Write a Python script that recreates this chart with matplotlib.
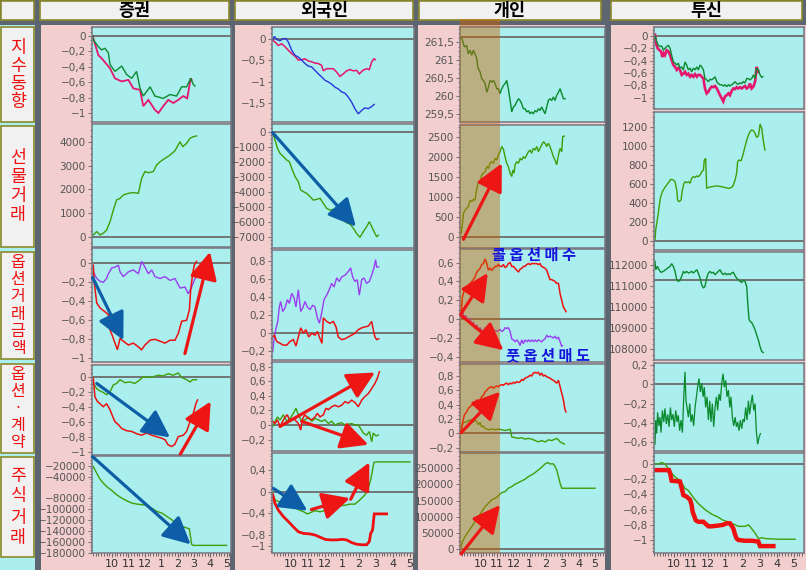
import matplotlib
matplotlib.use("Agg")
import matplotlib.pyplot as plt
from matplotlib.patches import Rectangle
from matplotlib.ticker import FuncFormatter, AutoMinorLocator, MultipleLocator

plt.rcParams['font.family'] = ['DejaVu Sans']
KR = ['Noto Sans CJK KR', 'DejaVu Sans']

# ---- labels ----
col_titles = ['증권', '외국인', '개인', '투신']
row_titles = ['지수동향', '선물거래', '옵션거래금액', '옵션·계약', '주식거래']
hour_ticks = [10, 11, 12, 13, 14, 15, 16, 17]
hour_labels = ['10', '11', '12', '1', '2', '3', '4', '5']
call_text = '콜 옵 션 매 수'
put_text = '풋 옵 션 매 도'

# ---- 증권 ----
sec_idx_green = [(8.82, 0.0), (8.86, -0.05), (9.17, -0.14), (9.37, -0.18), (9.57, -0.16), (9.78, -0.22),
                 (9.88, -0.37), (10.18, -0.46), (10.59, -0.39), (10.89, -0.5), (11.2, -0.55), (11.5, -0.46),
                 (11.71, -0.68), (11.91, -0.78), (12.32, -0.66), (12.62, -0.78), (13.13, -0.81), (13.54, -0.76),
                 (13.94, -0.78), (14.25, -0.66), (14.55, -0.66), (14.8, -0.55), (14.96, -0.63), (15.06, -0.65)]
sec_idx_pink = [(8.84, 0.0), (8.86, -0.03), (9.17, -0.25), (9.37, -0.29), (9.88, -0.42), (10.18, -0.55),
                (10.59, -0.59), (11.0, -0.57), (11.3, -0.68), (11.71, -0.70), (11.91, -0.91), (12.22, -0.83),
                (12.62, -0.96), (12.83, -1.0), (13.13, -0.91), (13.43, -0.83), (13.74, -0.87), (14.04, -0.83),
                (14.35, -0.78), (14.59, -0.81), (14.8, -0.55), (14.86, -0.57)]
sec_fut = [(8.86, 100), (9.07, 240), (9.27, 100), (9.47, 170), (9.67, 300), (9.88, 650), (10.08, 1140),
           (10.28, 1560), (10.49, 1630), (10.69, 1770), (11.0, 1840), (11.3, 1870), (11.61, 1840), (11.81, 2470),
           (12.01, 2750), (12.22, 2700), (12.52, 2750), (12.72, 3020), (12.93, 3160), (13.23, 3300),
           (13.54, 3440), (13.84, 3620), (14.15, 4000), (14.31, 3790), (14.55, 3930), (14.76, 4140),
           (14.96, 4210), (15.16, 4240)]
sec_amt_purple = [(8.86, -0.09), (9.07, -0.16), (9.27, -0.19), (9.47, -0.2), (9.67, -0.16), (9.78, -0.11),
                  (9.98, -0.05), (10.18, -0.04), (10.39, -0.02), (10.49, -0.09), (10.69, -0.14), (11.0, -0.09),
                  (11.3, -0.07), (11.61, -0.11), (11.81, 0.02), (12.01, -0.04), (12.22, -0.11), (12.42, -0.07),
                  (12.62, -0.14), (12.93, -0.16), (13.23, -0.14), (13.54, -0.18), (13.84, -0.16), (14.15, -0.26),
                  (14.45, -0.25), (14.65, -0.32), (14.86, -0.25), (15.06, -0.16), (15.16, -0.14)]
sec_amt_red = [(8.86, -0.02), (8.92, -0.21), (9.07, -0.42), (9.27, -0.47), (9.57, -0.51), (9.78, -0.54),
               (9.88, -0.70), (10.04, -0.77), (10.18, -0.84), (10.33, -0.91), (10.49, -0.79), (10.69, -0.82),
               (11.0, -0.86), (11.3, -0.84), (11.61, -0.88), (11.81, -0.91), (12.01, -0.86), (12.32, -0.81),
               (12.62, -0.80), (12.93, -0.82), (13.23, -0.84), (13.54, -0.81), (13.84, -0.81), (14.04, -0.74),
               (14.25, -0.61), (14.55, -0.60), (14.72, -0.49), (14.8, -0.28), (14.92, -0.11), (15.02, -0.02),
               (15.16, 0.02)]
sec_cnt_green = [(8.86, -0.09), (9.07, -0.16), (9.27, -0.19), (9.47, -0.21), (9.67, -0.24), (9.88, -0.2),
                 (10.08, -0.11), (10.28, -0.09), (10.49, -0.04), (10.79, -0.08), (11.1, -0.07), (11.4, -0.09),
                 (11.71, -0.04), (11.91, 0.0), (12.22, -0.01), (12.52, 0.0), (12.83, 0.02), (13.13, 0.01),
                 (13.43, 0.04), (13.74, 0.02), (14.04, 0.05), (14.25, -0.01), (14.55, -0.04), (14.76, -0.07),
                 (14.92, -0.04), (15.16, -0.04)]
sec_cnt_red = [(8.86, -0.02), (8.96, -0.27), (9.11, -0.33), (9.27, -0.36), (9.47, -0.4), (9.67, -0.36),
               (9.88, -0.44), (10.04, -0.53), (10.18, -0.6), (10.39, -0.64), (10.59, -0.69), (10.89, -0.72),
               (11.2, -0.73), (11.5, -0.76), (11.81, -0.78), (12.11, -0.75), (12.42, -0.78), (12.72, -0.8),
               (13.03, -0.82), (13.23, -0.84), (13.43, -0.91), (13.64, -0.93), (13.84, -0.90), (14.04, -0.80),
               (14.35, -0.78), (14.55, -0.73), (14.76, -0.60), (14.96, -0.49), (15.12, -0.36), (15.22, -0.31)]
sec_stk = [(8.86, -21800), (9.07, -34000), (9.27, -45000), (9.47, -52200), (9.67, -58300), (9.98, -65600),
           (10.28, -73500), (10.59, -79600), (10.89, -84500), (11.2, -88700), (11.5, -90600), (11.81, -91800),
           (12.11, -93000), (12.42, -97900), (12.72, -104000), (13.03, -107000), (13.33, -113100),
           (13.64, -119200), (13.94, -128300), (14.25, -131300), (14.55, -134400), (14.72, -136200),
           (14.86, -164800), (14.96, -166600), (16.99, -166600)]

# ---- 외국인 ----
frn_idx_pink = [(8.92, -0.04), (9.06, -0.08), (9.25, -0.16), (9.45, -0.12), (9.65, -0.19), (9.84, -0.27),
                (10.04, -0.35), (10.24, -0.41), (10.43, -0.5), (10.63, -0.49), (10.82, -0.47), (11.02, -0.52),
                (11.22, -0.54), (11.41, -0.57), (11.61, -0.58), (11.8, -0.62), (11.9, -0.75), (12.1, -0.7),
                (12.29, -0.7), (12.49, -0.7), (12.69, -0.78), (12.88, -0.88), (13.08, -0.82), (13.27, -0.75),
                (13.47, -0.72), (13.67, -0.75), (13.86, -0.74), (14.02, -0.82), (14.22, -0.74), (14.45, -0.7),
                (14.61, -0.72), (14.75, -0.54), (14.88, -0.47), (14.96, -0.49)]
frn_idx_blue = [(8.92, -0.02), (9.02, 0.05), (9.16, -0.02), (9.35, -0.05), (9.55, 0.0), (9.71, 0.0),
                (9.84, -0.08), (10.04, -0.27), (10.24, -0.39), (10.43, -0.43), (10.63, -0.5), (10.82, -0.58),
                (11.02, -0.64), (11.22, -0.66), (11.41, -0.74), (11.61, -0.82), (11.8, -0.89), (12.0, -0.97),
                (12.2, -1.01), (12.39, -1.06), (12.59, -1.13), (12.78, -1.17), (12.98, -1.24), (13.18, -1.27),
                (13.37, -1.36), (13.57, -1.48), (13.76, -1.63), (13.96, -1.75), (14.16, -1.67), (14.35, -1.61),
                (14.55, -1.63), (14.75, -1.58), (14.9, -1.53)]
frn_fut = [(8.92, -110), (9.06, -560), (9.2, -1110), (9.35, -1440), (9.55, -1670), (9.75, -1890), (9.9, -2000),
           (10.04, -2440), (10.24, -3000), (10.43, -3330), (10.57, -3890), (10.73, -4000), (10.92, -4110),
           (11.12, -4330), (11.31, -4560), (11.51, -4510), (11.71, -4440), (11.9, -4780), (12.1, -5110),
           (12.29, -5220), (12.49, -5180), (12.69, -5270), (12.88, -5780), (13.08, -5890), (13.27, -6070),
           (13.47, -6160), (13.67, -6440), (13.86, -6780), (14.06, -7040), (14.25, -6670), (14.45, -6330),
           (14.61, -6000), (14.75, -6330), (14.94, -6780), (15.04, -7000), (15.14, -6890)]
frn_amt_purple = [(8.92, -0.2), (9.02, -0.04), (9.12, 0.06), (9.22, 0.13), (9.31, 0.29), (9.39, 0.35),
                  (9.51, 0.24), (9.65, 0.28), (9.78, 0.37), (9.9, 0.33), (10.04, 0.44), (10.18, 0.39),
                  (10.29, 0.29), (10.43, 0.48), (10.57, 0.24), (10.69, 0.28), (10.82, 0.35), (10.96, 0.29),
                  (11.12, 0.26), (11.27, 0.31), (11.41, 0.29), (11.55, 0.17), (11.67, 0.11), (11.8, 0.22),
                  (11.94, 0.37), (12.1, 0.42), (12.25, 0.48), (12.39, 0.55), (12.53, 0.51), (12.69, 0.61),
                  (12.84, 0.57), (12.98, 0.62), (13.18, 0.64), (13.37, 0.68), (13.51, 0.72), (13.63, 0.62),
                  (13.76, 0.57), (13.9, 0.59), (14.02, 0.42), (14.16, 0.59), (14.29, 0.61), (14.45, 0.55),
                  (14.61, 0.57), (14.75, 0.64), (14.88, 0.72), (14.98, 0.81), (15.04, 0.73), (15.16, 0.73)]
frn_amt_red = [(8.92, -0.04), (9.02, -0.02), (9.16, -0.09), (9.35, -0.11), (9.55, -0.13), (9.75, -0.13),
               (9.94, -0.09), (10.14, -0.07), (10.29, -0.14), (10.43, -0.04), (10.57, 0.06), (10.73, 0.0),
               (10.88, 0.04), (11.04, -0.04), (11.22, 0.0), (11.41, -0.02), (11.55, 0.02), (11.71, -0.06),
               (11.82, -0.11), (11.9, 0.17), (12.1, 0.13), (12.29, 0.11), (12.49, 0.13), (12.65, 0.07),
               (12.78, -0.04), (12.98, -0.07), (13.18, -0.06), (13.37, -0.04), (13.57, -0.02), (13.76, 0.0),
               (13.96, 0.04), (14.16, 0.06), (14.35, 0.07), (14.55, 0.08), (14.75, 0.13), (14.84, 0.04),
               (14.94, -0.04), (15.04, -0.07), (15.16, -0.06)]
frn_cnt_red = [(8.92, 0.05), (9.06, 0.02), (9.2, 0.07), (9.35, -0.02), (9.51, 0.05), (9.65, 0.11), (9.78, 0.14),
               (9.94, 0.05), (10.1, 0.09), (10.24, 0.07), (10.43, 0.02), (10.57, -0.07), (10.69, 0.09),
               (10.82, 0.14), (11.02, 0.09), (11.22, 0.07), (11.41, 0.11), (11.55, 0.16), (11.71, 0.11),
               (11.9, 0.14), (12.06, 0.23), (12.2, 0.21), (12.39, 0.25), (12.59, 0.27), (12.78, 0.25),
               (12.98, 0.27), (13.18, 0.32), (13.37, 0.30), (13.57, 0.34), (13.76, 0.31), (13.96, 0.25),
               (14.16, 0.34), (14.35, 0.39), (14.55, 0.43), (14.75, 0.5), (14.94, 0.57), (15.08, 0.64),
               (15.2, 0.73)]
frn_cnt_green = [(8.92, -0.02), (9.06, 0.05), (9.2, 0.11), (9.35, 0.07), (9.55, 0.14), (9.75, 0.05),
                 (9.94, 0.09), (10.14, 0.16), (10.29, 0.23), (10.43, 0.14), (10.63, 0.05), (10.82, 0.07),
                 (11.02, 0.11), (11.22, 0.05), (11.41, 0.09), (11.61, 0.07), (11.8, 0.05), (12.0, 0.07),
                 (12.2, 0.02), (12.39, 0.05), (12.59, 0.0), (12.78, 0.02), (12.98, 0.03), (13.18, 0.0),
                 (13.37, 0.01), (13.57, 0.02), (13.76, 0.0), (13.96, 0.0), (14.1, -0.05), (14.25, -0.11),
                 (14.45, -0.14), (14.61, -0.09), (14.75, -0.23), (14.84, -0.11), (15.0, -0.15), (15.14, -0.14)]
frn_stk_green = [(8.92, -0.03), (9.06, -0.15), (9.25, -0.18), (9.55, -0.22), (9.84, -0.25), (10.14, -0.28),
                 (10.43, -0.33), (10.73, -0.37), (10.96, -0.41), (11.12, -0.39), (11.41, -0.35), (11.71, -0.37),
                 (12.0, -0.35), (12.29, -0.31), (12.59, -0.28), (12.88, -0.26), (13.18, -0.25), (13.47, -0.23),
                 (13.76, -0.23), (13.96, -0.18), (14.16, -0.12), (14.35, -0.06), (14.55, 0.06), (14.69, 0.22),
                 (14.8, 0.4), (14.88, 0.54), (15.04, 0.55), (17.0, 0.55)]
frn_stk_red = [(8.92, -0.06), (9.06, -0.22), (9.25, -0.34), (9.55, -0.46), (9.84, -0.55), (10.14, -0.65),
               (10.43, -0.74), (10.73, -0.77), (11.12, -0.78), (11.41, -0.8), (11.71, -0.84), (12.0, -0.88),
               (12.29, -0.89), (12.69, -0.89), (12.98, -0.88), (13.27, -0.89), (13.57, -0.94), (13.86, -0.97),
               (14.16, -0.98), (14.45, -0.98), (14.61, -0.92), (14.69, -0.77), (14.8, -0.71), (14.9, -0.41),
               (15.14, -0.41), (15.63, -0.41)]

# ---- 개인 ----
ind_idx = [(8.8, 261.64), (8.88, 261.55), (9.0, 261.36), (9.14, 261.41), (9.24, 261.17), (9.35, 261.27),
           (9.45, 261.13), (9.55, 261.27), (9.65, 261.17), (9.76, 261.03), (9.82, 260.8), (9.96, 260.66),
           (10.06, 260.48), (10.16, 260.43), (10.27, 260.34), (10.37, 260.1), (10.47, 260.24), (10.57, 260.43),
           (10.67, 260.38), (10.78, 260.43), (10.88, 260.34), (10.98, 260.2), (11.08, 260.2), (11.18, 260.06),
           (11.29, 260.2), (11.39, 260.29), (11.49, 260.34), (11.59, 260.43), (11.69, 260.2), (11.8, 259.87),
           (11.9, 259.55), (12.0, 259.69), (12.1, 259.73), (12.2, 259.83), (12.31, 259.92), (12.41, 259.87),
           (12.51, 259.78), (12.61, 259.64), (12.71, 259.64), (12.82, 259.55), (12.92, 259.59), (13.02, 259.5),
           (13.12, 259.55), (13.22, 259.5), (13.33, 259.59), (13.43, 259.55), (13.53, 259.64), (13.63, 259.59),
           (13.73, 259.69), (13.84, 259.59), (13.94, 259.5), (14.04, 259.69), (14.14, 259.87), (14.24, 259.92),
           (14.35, 259.87), (14.45, 259.97), (14.55, 259.87), (14.65, 260.01), (14.76, 260.1), (14.86, 260.2),
           (14.96, 260.06), (15.06, 259.92), (15.16, 259.92)]
ind_fut = [(8.8, 100), (8.88, 350), (8.94, 600), (9.04, 680), (9.14, 725), (9.24, 770), (9.35, 930), (9.45, 890),
           (9.55, 950), (9.65, 930), (9.76, 1225), (9.86, 1390), (9.96, 1350), (10.06, 1560), (10.16, 1600),
           (10.27, 1640), (10.37, 1770), (10.47, 1725), (10.57, 1850), (10.67, 1890), (10.78, 1850),
           (10.88, 1975), (10.98, 1930), (11.08, 2060), (11.18, 2140), (11.29, 2270), (11.39, 2200),
           (11.49, 2015), (11.59, 1850), (11.69, 1770), (11.8, 1600), (11.9, 1520), (11.96, 1680), (12.04, 1600),
           (12.1, 1810), (12.2, 1890), (12.31, 1850), (12.41, 1975), (12.51, 1930), (12.61, 2015), (12.71, 1975),
           (12.82, 2060), (12.92, 2140), (13.02, 2180), (13.12, 2100), (13.22, 2225), (13.33, 2180),
           (13.43, 2270), (13.53, 2140), (13.63, 2225), (13.73, 2310), (13.84, 2390), (13.94, 2350),
           (14.04, 2270), (14.14, 2350), (14.24, 2270), (14.35, 2140), (14.45, 2015), (14.55, 1930),
           (14.65, 1810), (14.76, 2060), (14.86, 2225), (14.96, 2140), (15.02, 2520), (15.12, 2530)]
ind_amt_red = [(8.8, 0.06), (8.88, 0.24), (9.0, 0.31), (9.14, 0.34), (9.24, 0.36), (9.35, 0.38), (9.45, 0.4),
               (9.55, 0.42), (9.65, 0.45), (9.76, 0.5), (9.86, 0.52), (9.96, 0.54), (10.06, 0.58), (10.16, 0.59),
               (10.27, 0.64), (10.37, 0.59), (10.47, 0.52), (10.57, 0.54), (10.67, 0.52), (10.78, 0.54),
               (10.88, 0.56), (10.98, 0.56), (11.08, 0.58), (11.18, 0.56), (11.29, 0.56), (11.39, 0.58),
               (11.49, 0.55), (11.59, 0.56), (11.69, 0.59), (11.8, 0.6), (11.9, 0.56), (12.0, 0.56), (12.1, 0.54),
               (12.2, 0.52), (12.31, 0.5), (12.41, 0.53), (12.51, 0.54), (12.61, 0.56), (12.71, 0.56),
               (12.82, 0.58), (12.92, 0.59), (13.02, 0.58), (13.12, 0.59), (13.22, 0.59), (13.33, 0.59),
               (13.43, 0.59), (13.53, 0.58), (13.63, 0.59), (13.73, 0.56), (13.84, 0.55), (13.94, 0.54),
               (14.04, 0.52), (14.14, 0.47), (14.24, 0.42), (14.35, 0.42), (14.45, 0.41), (14.55, 0.4),
               (14.65, 0.38), (14.76, 0.38), (14.86, 0.27), (14.96, 0.2), (15.06, 0.13), (15.16, 0.1),
               (15.22, 0.08)]
ind_amt_purple = [(8.8, 0.04), (8.88, 0.08), (9.0, 0.02), (9.08, 0.04), (9.2, -0.01), (9.35, 0.01),
                  (9.45, -0.06), (9.55, -0.03), (9.65, -0.1), (9.76, -0.06), (9.86, -0.12), (9.96, -0.09),
                  (10.06, -0.12), (10.16, -0.13), (10.27, -0.09), (10.37, -0.15), (10.47, -0.11), (10.57, -0.13),
                  (10.67, -0.09), (10.78, -0.13), (10.88, -0.12), (10.98, -0.13), (11.08, -0.12), (11.18, -0.11),
                  (11.29, -0.13), (11.39, -0.12), (11.49, -0.09), (11.59, -0.1), (11.69, -0.09), (11.8, -0.13),
                  (11.9, -0.21), (12.0, -0.22), (12.1, -0.24), (12.2, -0.22), (12.31, -0.24), (12.41, -0.28),
                  (12.51, -0.22), (12.61, -0.26), (12.71, -0.22), (12.82, -0.24), (12.92, -0.22), (13.02, -0.24),
                  (13.12, -0.22), (13.22, -0.24), (13.33, -0.22), (13.43, -0.24), (13.53, -0.22), (13.63, -0.23),
                  (13.73, -0.24), (13.84, -0.22), (13.94, -0.21), (14.04, -0.17), (14.14, -0.19), (14.24, -0.18),
                  (14.35, -0.19), (14.45, -0.2), (14.55, -0.18), (14.65, -0.21), (14.76, -0.19), (14.86, -0.24),
                  (14.96, -0.29), (15.0, -0.28)]
ind_cnt_red = [(8.8, 0.02), (8.88, 0.14), (9.0, 0.26), (9.14, 0.3), (9.24, 0.35), (9.35, 0.37), (9.45, 0.4),
               (9.55, 0.39), (9.65, 0.42), (9.76, 0.47), (9.86, 0.44), (9.96, 0.47), (10.06, 0.51), (10.16, 0.53),
               (10.27, 0.58), (10.37, 0.6), (10.47, 0.63), (10.57, 0.64), (10.67, 0.65), (10.78, 0.63),
               (10.88, 0.65), (10.98, 0.66), (11.08, 0.65), (11.18, 0.67), (11.29, 0.68), (11.39, 0.67),
               (11.49, 0.69), (11.59, 0.7), (11.69, 0.68), (11.8, 0.7), (11.9, 0.69), (12.0, 0.71), (12.1, 0.7),
               (12.2, 0.72), (12.31, 0.71), (12.41, 0.72), (12.51, 0.75), (12.61, 0.74), (12.71, 0.77),
               (12.82, 0.78), (12.92, 0.79), (13.02, 0.81), (13.12, 0.8), (13.22, 0.84), (13.33, 0.85),
               (13.43, 0.84), (13.53, 0.85), (13.63, 0.81), (13.73, 0.84), (13.84, 0.8), (13.94, 0.81),
               (14.04, 0.79), (14.14, 0.78), (14.24, 0.77), (14.35, 0.75), (14.45, 0.74), (14.55, 0.72),
               (14.65, 0.7), (14.76, 0.74), (14.86, 0.65), (14.96, 0.56), (15.06, 0.47), (15.16, 0.33),
               (15.22, 0.3)]
ind_cnt_green = [(8.8, 0.07), (8.94, 0.15), (9.14, 0.16), (9.35, 0.19), (9.55, 0.16), (9.65, 0.19), (9.76, 0.16),
                 (9.86, 0.12), (9.96, 0.15), (10.06, 0.09), (10.16, 0.1), (10.27, 0.07), (10.47, 0.05),
                 (10.67, 0.06), (10.88, 0.05), (11.08, 0.06), (11.29, 0.05), (11.49, 0.04), (11.69, 0.05),
                 (11.8, 0.06), (11.9, -0.05), (12.1, -0.06), (12.31, -0.07), (12.51, -0.06), (12.71, -0.08),
                 (12.92, -0.07), (13.12, -0.08), (13.33, -0.1), (13.53, -0.12), (13.73, -0.1), (13.94, -0.12),
                 (14.14, -0.09), (14.35, -0.1), (14.55, -0.08), (14.65, -0.07), (14.76, -0.09), (14.86, -0.12),
                 (14.96, -0.13), (15.12, -0.15)]
ind_stk = [(8.8, 8200), (8.88, 23700), (9.04, 39100), (9.24, 54500), (9.45, 70000), (9.65, 85400),
           (9.86, 100800), (10.06, 116300), (10.27, 131700), (10.47, 142000), (10.67, 152300), (10.88, 157400),
           (11.08, 164600), (11.18, 170800), (11.29, 174900), (11.49, 178000), (11.69, 188300), (11.9, 193500),
           (12.1, 200700), (12.31, 205800), (12.51, 211000), (12.71, 216100), (12.92, 224300), (13.12, 229500),
           (13.33, 236700), (13.53, 244900), (13.73, 253100), (13.94, 263400), (14.1, 267500), (14.24, 263400),
           (14.45, 263400), (14.55, 255200), (14.65, 244900), (14.76, 224300), (14.86, 203700), (14.96, 188300),
           (15.37, 188300), (16.18, 188300), (17.0, 188300)]
ind_shade_end = 11.18

# ---- 투신 ----
trs_idx_green = [(8.89, 0.0), (8.99, -0.09), (9.08, -0.15), (9.18, -0.17), (9.28, -0.16), (9.38, -0.23),
                 (9.47, -0.2), (9.57, -0.17), (9.67, -0.15), (9.77, -0.2), (9.86, -0.31), (9.96, -0.42),
                 (10.06, -0.44), (10.16, -0.47), (10.25, -0.44), (10.35, -0.52), (10.45, -0.5), (10.55, -0.55),
                 (10.64, -0.42), (10.74, -0.47), (10.84, -0.55), (10.94, -0.52), (11.03, -0.58), (11.13, -0.52),
                 (11.23, -0.55), (11.33, -0.5), (11.42, -0.55), (11.52, -0.47), (11.62, -0.5), (11.72, -0.55),
                 (11.81, -0.69), (11.91, -0.71), (12.01, -0.74), (12.11, -0.7), (12.2, -0.71), (12.3, -0.69),
                 (12.4, -0.66), (12.5, -0.74), (12.59, -0.77), (12.69, -0.79), (12.79, -0.79), (12.88, -0.81),
                 (12.98, -0.79), (13.08, -0.82), (13.18, -0.79), (13.27, -0.81), (13.37, -0.79), (13.47, -0.77),
                 (13.57, -0.74), (13.66, -0.77), (13.76, -0.78), (13.86, -0.76), (13.96, -0.77), (14.05, -0.74),
                 (14.15, -0.76), (14.25, -0.69), (14.35, -0.69), (14.44, -0.71), (14.54, -0.69), (14.64, -0.63),
                 (14.74, -0.69), (14.83, -0.52), (14.93, -0.55), (15.03, -0.63), (15.13, -0.67), (15.19, -0.66)]
trs_idx_pink = [(8.89, 0.02), (8.95, -0.12), (9.04, -0.2), (9.14, -0.23), (9.24, -0.25), (9.32, -0.34),
                (9.4, -0.28), (9.47, -0.31), (9.57, -0.23), (9.67, -0.25), (9.77, -0.31), (9.86, -0.39),
                (9.96, -0.47), (10.06, -0.5), (10.16, -0.55), (10.25, -0.52), (10.35, -0.55), (10.45, -0.63),
                (10.55, -0.61), (10.64, -0.58), (10.74, -0.63), (10.84, -0.61), (10.94, -0.66), (11.03, -0.63),
                (11.13, -0.66), (11.23, -0.62), (11.33, -0.66), (11.42, -0.63), (11.52, -0.63), (11.62, -0.66),
                (11.72, -0.69), (11.81, -0.85), (11.91, -0.93), (12.01, -0.9), (12.11, -0.85), (12.2, -0.82),
                (12.3, -0.83), (12.4, -0.81), (12.5, -0.85), (12.59, -0.9), (12.69, -0.96), (12.79, -1.01),
                (12.88, -1.06), (12.98, -0.98), (13.08, -0.96), (13.18, -0.93), (13.27, -0.96), (13.37, -0.89),
                (13.47, -0.85), (13.57, -0.86), (13.66, -0.83), (13.76, -0.85), (13.86, -0.83), (13.96, -0.85),
                (14.05, -0.83), (14.15, -0.81), (14.25, -0.85), (14.35, -0.83), (14.44, -0.77), (14.54, -0.85),
                (14.64, -0.82), (14.74, -0.74), (14.83, -0.5), (14.93, -0.58)]
trs_fut = [(8.89, 14), (8.93, 112), (8.99, 182), (9.08, 288), (9.14, 375), (9.22, 463), (9.32, 516), (9.43, 551),
           (9.57, 586), (9.71, 621), (9.82, 646), (9.96, 639), (10.06, 621), (10.16, 533), (10.21, 428),
           (10.29, 410), (10.41, 428), (10.49, 533), (10.57, 597), (10.64, 621), (10.74, 611), (10.84, 621),
           (10.94, 604), (11.03, 656), (11.13, 674), (11.23, 667), (11.33, 681), (11.42, 674), (11.52, 691),
           (11.62, 726), (11.72, 744), (11.77, 849), (11.85, 867), (11.91, 551), (12.01, 561), (12.2, 568),
           (12.4, 575), (12.59, 575), (12.79, 568), (12.98, 561), (13.18, 551), (13.37, 561), (13.47, 586),
           (13.57, 639), (13.66, 709), (13.72, 832), (13.8, 849), (13.92, 842), (14.0, 884), (14.05, 919),
           (14.15, 989), (14.25, 1060), (14.35, 1112), (14.44, 1147), (14.54, 1165), (14.64, 1158),
           (14.74, 1130), (14.83, 1088), (14.93, 1102), (14.99, 1165), (15.03, 1228), (15.13, 1183),
           (15.19, 1095), (15.26, 1007), (15.32, 954)]
trs_amt = [(8.89, 112158), (8.93, 111763), (9.03, 111921), (9.12, 111763), (9.24, 111636), (9.38, 111684),
           (9.51, 111763), (9.63, 111842), (9.77, 111921), (9.86, 112047), (9.96, 111921), (10.06, 111684),
           (10.16, 111289), (10.25, 111210), (10.35, 111257), (10.45, 111447), (10.55, 111684), (10.64, 111605),
           (10.74, 111684), (10.84, 111605), (10.94, 111636), (11.03, 111684), (11.13, 111605), (11.23, 111684),
           (11.33, 111763), (11.42, 111605), (11.52, 111368), (11.62, 111051), (11.72, 110893), (11.81, 110972),
           (11.91, 111368), (12.01, 111605), (12.11, 111684), (12.2, 111605), (12.3, 111636), (12.4, 111526),
           (12.5, 111605), (12.59, 111684), (12.69, 111763), (12.79, 111605), (12.88, 111526), (12.98, 111605),
           (13.08, 111526), (13.18, 111573), (13.27, 111526), (13.37, 111605), (13.47, 111636), (13.57, 111478),
           (13.66, 111368), (13.76, 111289), (13.86, 111210), (13.96, 111162), (14.05, 111257), (14.15, 111210),
           (14.25, 110972), (14.31, 110182), (14.39, 109391), (14.46, 109312), (14.54, 109265), (14.64, 109107),
           (14.74, 108917), (14.83, 108680), (14.93, 108443), (15.03, 108127), (15.13, 107889), (15.22, 107842)]
trs_cnt = [(8.89, -0.62), (8.93, -0.37), (8.99, -0.51), (9.04, -0.29), (9.12, -0.43), (9.18, -0.34), (9.24, -0.5),
           (9.32, -0.27), (9.40, -0.39), (9.47, -0.25), (9.55, -0.41), (9.63, -0.31), (9.71, -0.44), (9.79, -0.24),
           (9.86, -0.37), (9.94, -0.31), (10.02, -0.44), (10.10, -0.27), (10.18, -0.39), (10.25, -0.32),
           (10.33, -0.48), (10.41, -0.37), (10.49, -0.5), (10.57, -0.13), (10.64, 0.13), (10.70, -0.17),
           (10.76, -0.24), (10.84, -0.34), (10.92, -0.2), (10.99, -0.39), (11.07, -0.31), (11.15, -0.43),
           (11.23, -0.24), (11.31, -0.13), (11.38, -0.03), (11.46, 0.06), (11.54, -0.08), (11.62, 0.01),
           (11.70, -0.13), (11.77, -0.03), (11.85, -0.24), (11.93, -0.13), (12.01, -0.37), (12.09, -0.17),
           (12.16, -0.39), (12.24, -0.2), (12.32, -0.44), (12.40, -0.24), (12.48, -0.13), (12.55, -0.27),
           (12.63, -0.1), (12.71, -0.17), (12.79, 0.01), (12.87, 0.11), (12.94, -0.03), (13.02, 0.04),
           (13.10, -0.13), (13.18, -0.06), (13.26, -0.24), (13.33, -0.13), (13.41, -0.34), (13.49, -0.43),
           (13.57, -0.34), (13.65, -0.44), (13.72, -0.39), (13.80, -0.48), (13.88, -0.37), (13.96, -0.46),
           (14.04, -0.36), (14.11, -0.39), (14.19, -0.24), (14.27, -0.37), (14.35, -0.17), (14.42, -0.31),
           (14.50, -0.2), (14.58, -0.11), (14.66, -0.27), (14.74, -0.2), (14.81, -0.48), (14.89, -0.62),
           (14.97, -0.55), (15.05, -0.51)]
trs_stk_green = [(8.89, 0.0), (9.08, 0.0), (9.28, 0.02), (9.47, 0.0), (9.67, -0.06), (9.86, -0.12), (10.06, -0.17),
                 (10.25, -0.2), (10.45, -0.25), (10.64, -0.32), (10.84, -0.35), (11.03, -0.41), (11.23, -0.47),
                 (11.42, -0.52), (11.62, -0.56), (11.81, -0.6), (12.01, -0.63), (12.2, -0.66), (12.4, -0.68),
                 (12.59, -0.7), (12.79, -0.73), (12.98, -0.75), (13.18, -0.76), (13.37, -0.78), (13.57, -0.8),
                 (13.76, -0.82), (13.96, -0.82), (14.15, -0.82), (14.35, -0.8), (14.54, -0.85), (14.74, -0.91),
                 (14.93, -0.98), (15.13, -0.97), (15.32, -0.98), (16.1, -0.99), (17.08, -0.99)]
trs_stk_red = [(8.89, -0.08), (9.57, -0.08), (9.71, -0.08), (9.77, -0.12), (9.86, -0.22), (10.35, -0.23),
               (10.45, -0.32), (10.55, -0.41), (10.74, -0.43), (10.94, -0.47), (11.03, -0.54), (11.09, -0.63),
               (11.19, -0.69), (11.27, -0.74), (11.42, -0.76), (11.72, -0.76), (11.81, -0.78), (12.01, -0.82),
               (12.2, -0.82), (12.59, -0.81), (12.88, -0.8), (13.08, -0.78), (13.27, -0.78), (13.47, -0.85),
               (13.57, -0.93), (13.66, -0.98), (13.76, -1.0), (14.15, -1.01), (14.54, -1.01), (14.93, -1.02),
               (15.03, -1.08), (15.32, -1.08), (15.81, -1.08)]

# arrows: (col, row, x_from, y_from, x_to, y_to, kind)
arrows = [
    (0, 2, 8.82, -0.15, 10.69, -0.81, 'b'), (0, 2, 14.45, -0.95, 15.98, 0.12, 'r'),
    (0, 3, 9.07, -0.09, 13.54, -0.81, 'b'), (0, 3, 14.15, -1.04, 16.02, -0.33, 'r'),
    (0, 4, 8.82, -3600, 14.8, -164800, 'b'),
    (1, 1, 8.92, -70, 13.82, -6330, 'b'),
    (1, 3, 9.35, -0.02, 14.94, 0.72, 'r'), (1, 3, 10.63, 0.05, 14.55, -0.27, 'r'),
    (1, 4, 8.96, 0.06, 10.96, -0.35, 'b'), (1, 4, 11.2, -0.33, 13.47, -0.12, 'r'),
    (1, 4, 13.51, -0.14, 14.61, 0.54, 'r'),
    (2, 1, 8.94, -50, 11.29, 1850, 'r'),
    (2, 2, 8.8, 0.06, 10.43, 0.49, 'r'), (2, 2, 8.8, 0.04, 11.39, -0.33, 'r'),
    (2, 3, 8.8, 0.01, 11.18, 0.58, 'r'),
    (2, 4, 8.8, -14400, 11.18, 136800, 'r'),
]

# ---- styling ----
W, H = 806, 570
PINK = '#f2cece'
CYAN = '#aaeeee'
DARK = '#5d6570'
BOX = '#f1f1f1'
OLIVE = '#8c8a2a'
SHADE = '#cd6400'
GRN = '#0a8a2c'
LGRN = '#3e9f08'
MAG = '#e5166b'
BLUE = '#2a35d8'
PURP = '#9a3ef0'
RED = '#ee1010'
ARROW_C = {'r': '#ee1515', 'b': '#0d5ea6'}

col_x = [(92, 231), (272, 414), (460, 605), (654, 804)]
row_y = [[(27, 122), (124, 247), (248, 362), (365, 455), (456, 553)],
         [(27, 122), (124, 248), (250, 360), (362, 451), (453, 553)],
         [(27, 122), (125, 248), (249, 362), (364, 452), (453, 553)],
         [(27, 109), (112, 250), (252, 360), (363, 451), (453, 553)]]
xlims = [(8.78, 17.26), (8.88, 17.24), (8.73, 17.61), (8.83, 17.6)]
ylims = [[(-1.117, 0.117), (-406, 4740), (-1.039, 0.161), (-1.044, 0.156), (-180600, -2300)],
         [(-1.94, 0.27), (-7750, 510), (-0.294, 0.917), (-0.357, 0.864), (-1.132, 0.714)],
         [(259.27, 261.92), (-268, 2808), (-0.455, 0.745), (-0.26, 0.967), (-11400, 297000)],
         [(-1.183, 0.146), (-98, 1355), (107490, 112600), (-0.69, 0.22), (-1.171, 0.145)]]
unit = [0, -0.2, -0.4, -0.6, -0.8, -1]
yticks = [[unit, [0, 1000, 2000, 3000, 4000], unit, unit,
           [-20000, -40000, -80000, -100000, -120000, -140000, -160000, -180000]],
          [[0, -0.5, -1, -1.5], [0, -1000, -2000, -3000, -4000, -5000, -6000, -7000],
           [-0.2, 0, 0.2, 0.4, 0.6, 0.8], [-0.2, 0, 0.2, 0.4, 0.6, 0.8], [0.4, 0, -0.4, -0.8, -1]],
          [[259.5, 260, 260.5, 261, 261.5], [0, 500, 1000, 1500, 2000, 2500], [-0.4, -0.2, 0, 0.2, 0.4, 0.6],
           [-0.2, 0, 0.2, 0.4, 0.6, 0.8], [0, 50000, 100000, 150000, 200000, 250000]],
          [unit, [0, 200, 400, 600, 800, 1000, 1200], [108000, 109000, 110000, 111000, 112000],
           [0.2, 0, -0.2, -0.4, -0.6], unit]]
refs = [[0, 0, 0, 0, None], [0, 0, 0, 0, 0], [261.64, 0, 0, 0, 0], [0, 0, 111288, 0, 0]]

series = {
    (0, 0): [(sec_idx_pink, MAG, 1.3), (sec_idx_green, GRN, 1.0)],
    (0, 1): [(sec_fut, LGRN, 1.0)],
    (0, 2): [(sec_amt_purple, PURP, 1.0), (sec_amt_red, RED, 1.1)],
    (0, 3): [(sec_cnt_green, LGRN, 1.0), (sec_cnt_red, RED, 1.1)],
    (0, 4): [(sec_stk, LGRN, 1.0)],
    (1, 0): [(frn_idx_pink, MAG, 1.1), (frn_idx_blue, BLUE, 1.0)],
    (1, 1): [(frn_fut, LGRN, 1.0)],
    (1, 2): [(frn_amt_purple, PURP, 1.0), (frn_amt_red, RED, 1.1)],
    (1, 3): [(frn_cnt_green, LGRN, 1.0), (frn_cnt_red, RED, 1.1)],
    (1, 4): [(frn_stk_green, LGRN, 1.0), (frn_stk_red, RED, 2.0)],
    (2, 0): [(ind_idx, GRN, 1.0)],
    (2, 1): [(ind_fut, LGRN, 1.0)],
    (2, 2): [(ind_amt_purple, PURP, 1.0), (ind_amt_red, RED, 1.1)],
    (2, 3): [(ind_cnt_green, LGRN, 1.0), (ind_cnt_red, RED, 1.1)],
    (2, 4): [(ind_stk, LGRN, 1.0)],
    (3, 0): [(trs_idx_pink, MAG, 1.9), (trs_idx_green, GRN, 1.0)],
    (3, 1): [(trs_fut, LGRN, 1.0)],
    (3, 2): [(trs_amt, GRN, 1.0)],
    (3, 3): [(trs_cnt, GRN, 0.9)],
    (3, 4): [(trs_stk_green, LGRN, 1.0), (trs_stk_red, RED, 3.2)],
}


def frac(l, t, r, b):
    return [l / W, 1 - b / H, (r - l) / W, (b - t) / H]


def comma_fmt(v, pos):
    if abs(v) < 1e-9:
        v = 0
    return f"{v:g}".replace('.', ',').replace('-', '\u2212')


fig = plt.figure(figsize=(W / 100, H / 100), dpi=100)

# background layer in pixel units
bg = fig.add_axes([0, 0, 1, 1], zorder=-5)
bg.set_xlim(0, W)
bg.set_ylim(H, 0)
bg.axis('off')
bg.add_patch(Rectangle((0, 0), W, H, color=CYAN, lw=0))
for x0, x1 in [(41, 230), (235, 413), (418, 605), (611, W)]:
    bg.add_patch(Rectangle((x0, 25), x1 - x0, H - 25, color=PINK, lw=0))
bg.add_patch(Rectangle((0, 0), W, 25, color=DARK, lw=0))
for x0, x1 in [(35, 41), (230, 235), (413, 418), (605, 611)]:
    bg.add_patch(Rectangle((x0, 0), x1 - x0, H, color=DARK, lw=0))

# header boxes
hdr = [(1, 34), (40, 229), (235, 413), (419, 601), (611, 802)]
for i, (x0, x1) in enumerate(hdr):
    bg.add_patch(Rectangle((x0, 0.5), x1 - x0, 19.5, facecolor=BOX, edgecolor=OLIVE, lw=1.2))
    if i > 0:
        bg.text((x0 + x1) / 2, 10.5, col_titles[i - 1], family=KR, fontsize=12.5, fontweight='bold',
                ha='center', va='center', color='black')

# row label boxes with stacked red characters
lab_box = [(27, 122), (126, 247), (252, 359), (364, 453), (457, 557)]
lab_size = [12.5, 12.5, 11.5, 11.5, 12.5]
lab_step = [18, 19, 17.2, 17, 21]
for (y0, y1), txt, fs, step in zip(lab_box, row_titles, lab_size, lab_step):
    bg.add_patch(Rectangle((1, y0), 33, y1 - y0, facecolor=BOX, edgecolor=OLIVE, lw=1.2))
    mid = (y0 + y1) / 2
    n = len(txt)
    for k, ch in enumerate(txt):
        bg.text(18, mid + (k - (n - 1) / 2) * step, ch, family=KR, fontsize=fs, color=RED,
                ha='center', va='center')

# shade strip behind panels of 개인 column
bg.add_patch(Rectangle((460, 19), 40, 534, color=SHADE, alpha=0.45, lw=0))

axes = {}
for c in range(4):
    for r in range(5):
        l, rt = col_x[c]
        t, b = row_y[c][r]
        ax = fig.add_axes(frac(l, t, rt, b))
        axes[(c, r)] = ax
        ax.set_facecolor(CYAN)
        ax.set_xlim(*xlims[c])
        ax.set_ylim(*ylims[c][r])
        for sp in ax.spines.values():
            sp.set_color('#767680')
            sp.set_linewidth(1.1)
        if refs[c][r] is not None:
            ax.axhline(refs[c][r], color='#6c6c6c', lw=1.3, zorder=1)
        for data, color, lw in series[(c, r)]:
            xs, ys = zip(*data)
            ax.plot(xs, ys, color=color, lw=lw, zorder=2, solid_joinstyle='miter')
        if c == 2:
            ax.axvspan(xlims[c][0], ind_shade_end, color=SHADE, alpha=0.45, lw=0, zorder=3)
        ax.set_yticks(yticks[c][r])
        ax.yaxis.set_major_formatter(FuncFormatter(comma_fmt))
        ax.yaxis.set_minor_locator(AutoMinorLocator(4))
        ax.tick_params(axis='y', which='major', length=3, width=0.8, color='#777777',
                       labelsize=7.5, labelcolor='#555555', pad=1.5)
        ax.tick_params(axis='y', which='minor', length=1.5, width=0.7, color='#777777')
        if r < 4:
            ax.set_xticks([])
            ax.tick_params(axis='x', which='both', bottom=False, labelbottom=False)
        else:
            ax.set_xticks(hour_ticks)
            ax.set_xticklabels(hour_labels)
            ax.xaxis.set_minor_locator(MultipleLocator(1 / 6))
            ax.tick_params(axis='x', which='major', length=3, width=0.8, color='#666666',
                           labelsize=8, labelcolor='#333333', pad=1.5)
            ax.tick_params(axis='x', which='minor', length=2, width=0.7, color='#666666')

for c, r, x0, y0, x1, y1, kind in arrows:
    axes[(c, r)].annotate('', xy=(x1, y1), xytext=(x0, y0),
                          arrowprops=dict(arrowstyle='-|>,head_length=1.2,head_width=0.6',
                                          color=ARROW_C[kind], lw=2.3, mutation_scale=14,
                                          shrinkA=0, shrinkB=0),
                          annotation_clip=False, zorder=5)

opt_ax = axes[(2, 2)]
opt_ax.text(13.26, 0.68, call_text, family=KR, fontsize=11, fontweight='bold', color='#1515dd',
            ha='center', va='center', zorder=6, clip_on=False)
opt_ax.text(14.09, -0.383, put_text, family=KR, fontsize=11, fontweight='bold', color='#1515dd',
            ha='center', va='center', zorder=6, clip_on=False)

fig.savefig('out.png', dpi=100)
